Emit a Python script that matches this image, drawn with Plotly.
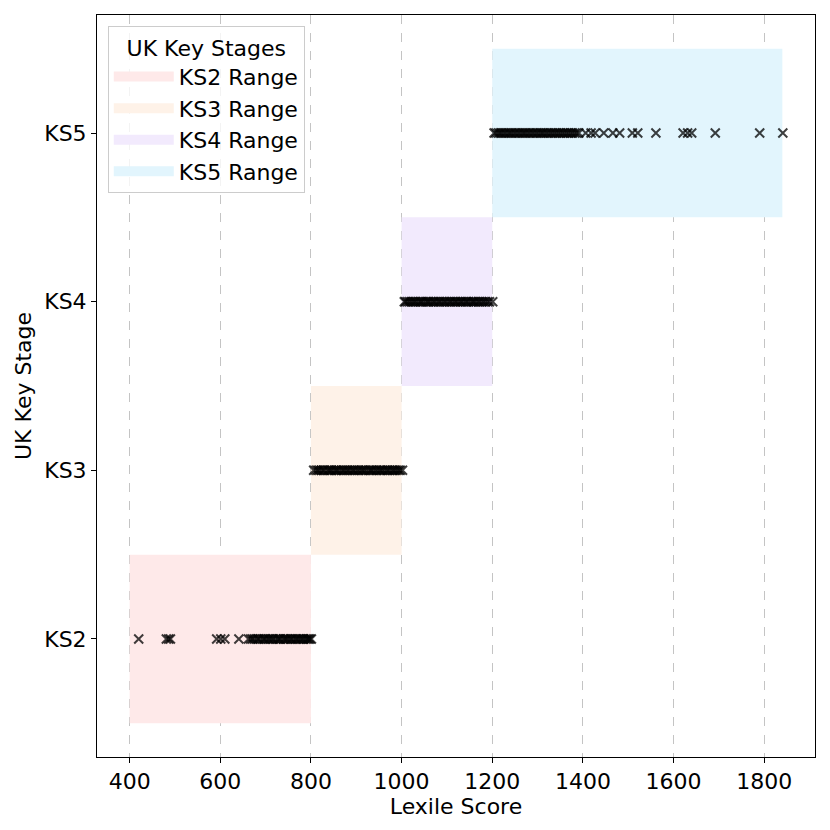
import plotly.graph_objects as go

stages = ["KS2", "KS3", "KS4", "KS5"]
range_low = [400, 800, 1000, 1200]
range_high = [800, 1000, 1200, 1840]
range_colors = ["#FEE9E9", "#FEF2E8", "#F2EAFD", "#E2F5FD"]

ks2_scores = [420, 481, 486, 490, 592, 601, 610, 641, 662, 667, 671, 675, 681, 684, 688, 694,
              697, 701, 706, 709, 714, 717, 722, 727, 730, 733, 739, 742, 746, 749, 754, 757,
              761, 766, 769, 773, 777, 781, 784, 789, 792, 795, 798, 801]
ks3_scores = [806, 811, 815, 818, 823, 827, 830, 836, 839, 843, 846, 851, 855, 858, 862, 867,
              871, 874, 879, 882, 886, 891, 894, 898, 903, 906, 911, 914, 918, 922, 927, 931,
              934, 938, 943, 946, 951, 954, 958, 962, 967, 970, 974, 979, 982, 986, 990, 994,
              997, 1002]
ks4_scores = [1006, 1009, 1013, 1017, 1021, 1025, 1029, 1032, 1037, 1041, 1044, 1048, 1053, 1057,
              1060, 1064, 1069, 1072, 1076, 1081, 1084, 1088, 1093, 1096, 1100, 1105, 1108, 1112,
              1117, 1120, 1124, 1129, 1132, 1136, 1141, 1144, 1148, 1153, 1157, 1160, 1164, 1169,
              1172, 1177, 1181, 1185, 1190, 1194, 1201]
ks5_scores = [1204, 1208, 1213, 1217, 1221, 1226, 1230, 1235, 1239, 1243, 1248, 1252, 1257, 1261,
              1266, 1270, 1274, 1279, 1283, 1288, 1292, 1297, 1301, 1306, 1310, 1314, 1319, 1323,
              1328, 1332, 1337, 1341, 1346, 1350, 1355, 1359, 1364, 1368, 1373, 1377, 1382, 1386,
              1391, 1406, 1418, 1427, 1446, 1466, 1481, 1509, 1521, 1561, 1621, 1631, 1640, 1692,
              1790, 1841]
stage_scores = [ks2_scores, ks3_scores, ks4_scores, ks5_scores]

fig = go.Figure()

for i, st in enumerate(stages):
    lo, hi = range_low[i], range_high[i]
    fig.add_trace(go.Scatter(
        x=[lo, hi, hi, lo, lo], y=[i - 0.5, i - 0.5, i + 0.5, i + 0.5, i - 0.5],
        mode="lines", fill="toself", fillcolor=range_colors[i],
        line=dict(width=0, color=range_colors[i]),
        name=f"{st} Range", showlegend=False, hoverinfo="name",
        legendgroup=st,
    ))
    # legend swatch
    fig.add_trace(go.Scatter(
        x=[None], y=[None], mode="lines",
        line=dict(width=16, color=range_colors[i]),
        name=f"{st} Range", showlegend=True, legendgroup=st,
    ))

for i, scores in enumerate(stage_scores):
    fig.add_trace(go.Scatter(
        x=scores, y=[i] * len(scores), mode="markers",
        marker=dict(symbol="x-thin", size=9, opacity=0.75,
                    line=dict(width=2, color="black"), color="black"),
        showlegend=False, hoverinfo="x",
    ))

font = "DejaVu Sans, sans-serif"
fs = 22
fig.update_layout(
    width=822, height=822,
    margin=dict(l=89, r=15, t=7, b=73),
    plot_bgcolor="white", paper_bgcolor="white",
    font=dict(family=font, size=fs, color="black"),
    legend=dict(
        title=dict(text="UK Key Stages", side="top center", font=dict(size=fs)),
        x=0.015, y=0.985, xanchor="left", yanchor="top",
        bgcolor="rgba(255,255,255,0.8)", bordercolor="#CCCCCC", borderwidth=1,
        font=dict(size=fs), traceorder="normal", itemwidth=60,
    ),
    xaxis=dict(
        title=dict(text="Lexile Score", font=dict(size=fs), standoff=4),
        range=[328, 1912], tickvals=[400, 600, 800, 1000, 1200, 1400, 1600, 1800],
        showgrid=True, gridcolor="#C4C4C4", griddash="dash", gridwidth=1,
        showline=True, linecolor="black", linewidth=1, mirror=True,
        ticks="outside", ticklen=5, tickcolor="black", zeroline=False,
        tickfont=dict(size=fs),
    ),
    yaxis=dict(
        title=dict(text="UK Key Stage", font=dict(size=fs), standoff=6),
        range=[-0.7, 3.7], tickvals=[0, 1, 2, 3], ticktext=stages,
        showgrid=False,
        showline=True, linecolor="black", linewidth=1, mirror=True,
        ticks="outside", ticklen=5, tickcolor="black", zeroline=False,
        tickfont=dict(size=fs),
    ),
)

fig.write_html("out.html")
